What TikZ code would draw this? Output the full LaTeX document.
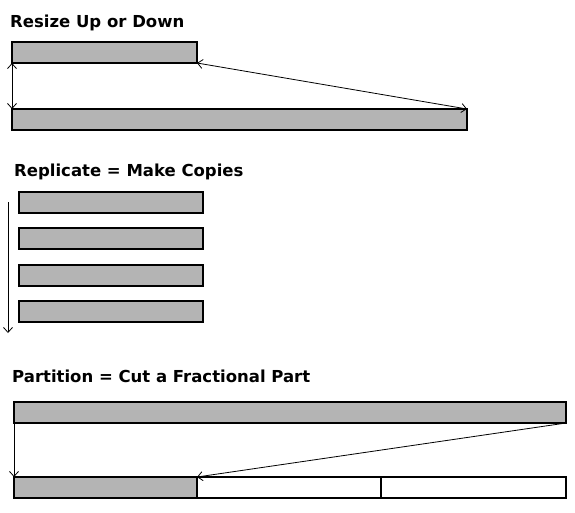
\documentclass[tikz,border=0pt]{standalone}
\usepackage{fontspec}
\setmainfont{Liberation Sans}
\newfontfamily\headfont{DejaVu Sans}
\usetikzlibrary{arrows.meta}

\definecolor{barfill}{RGB}{180,180,180}

\tikzset{
  bar/.style={draw, line width=2pt, fill=barfill, minimum width=#1,
    minimum height=21pt, inner sep=0pt, outer sep=0pt, anchor=north west},
  emptybar/.style={bar=#1, fill=white},
  title/.style={anchor=base west, inner sep=0pt, font=\headfont\bfseries\fontsize{16.5}{20}\selectfont},
  link/.style={line width=0.8pt, arrows={-Straight Barb[length=5pt,width=9pt]}},
  twolink/.style={link, arrows={Straight Barb[length=5pt,width=9pt]-Straight Barb[length=5pt,width=9pt]}}
}

\begin{document}
\begin{tikzpicture}[x=1pt, y=-1pt]
  \useasboundingbox (0,0) rectangle (575,512);

  % resize
  \node[title] (resize) at (10,27) {Resize Up or Down};
  \node[bar=185pt] (small) at (12,42) {};
  \node[bar=455pt] (big) at (12,109) {};
  \draw[twolink] (small.south west) -- (big.north west);
  \draw[twolink] (small.south east) -- (big.north east);

  % replicate
  \node[title] (replicate) at (14,176) {Replicate = Make Copies};
  \foreach \i/\y in {1/192, 2/228, 3/265, 4/301}
    \node[bar=184pt] (copy\i) at (19,\y) {};
  \coordinate (down top) at (8,202);
  \coordinate (down end) at (8,333);
  \draw[link] (down top) -- (down end);

  % partition
  \node[title] (partition) at (12,382) {Partition = Cut a Fractional Part};
  \node[bar=552pt] (whole) at (14,402) {};
  \node[bar=183pt] (part1) at (14,477) {};
  \node[emptybar=184pt] (part2) at (part1.north east) {};
  \node[emptybar=185pt] (part3) at (part2.north east) {};
  \draw[link] (whole.south west) -- (part1.north west);
  \draw[link] (whole.south east) -- (part1.north east);
\end{tikzpicture}
\end{document}
